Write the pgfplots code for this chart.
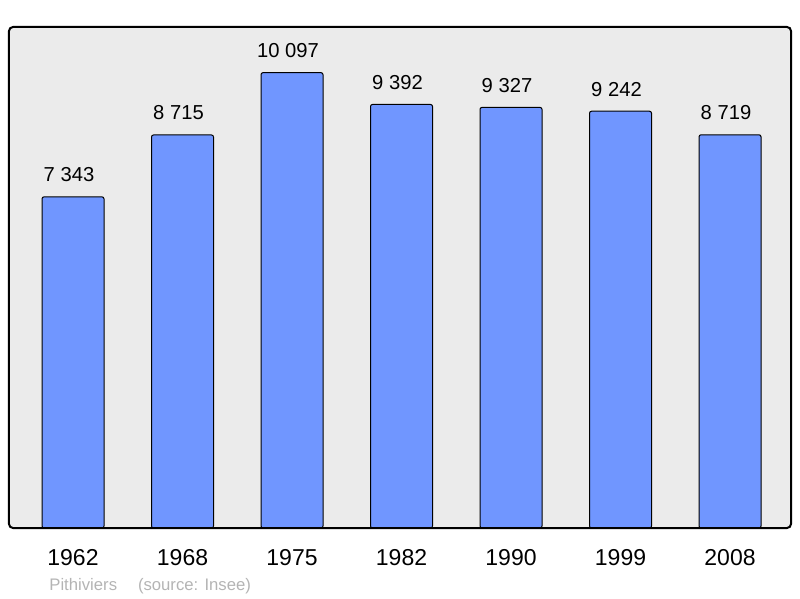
\documentclass[border=0pt]{standalone}
\usepackage{fontspec}
\setmainfont{Liberation Sans}
\usepackage{pgfplots}
\pgfplotsset{compat=1.18}
\definecolor{barblue}{HTML}{7096FF}
\definecolor{bggray}{HTML}{EBEBEB}
\definecolor{srcgray}{HTML}{B4B4B4}

\begin{document}
\begin{tikzpicture}
\begin{axis}[
  scale only axis,
  width=391pt, height=250.5pt,
  ybar, bar width=31pt,
  xmin=-0.5845, xmax=6.557,
  ymin=0, ymax=11110,
  clip=false,
  axis line style={draw=none},
  axis background/.style={fill=bggray},
  ytick=\empty,
  xtick=data,
  xticklabels={1962,1968,1975,1982,1990,1999,2008},
  major tick length=0pt,
  xticklabel style={font=\fontsize{11.5}{13}\selectfont, anchor=base, yshift=-18.5pt},
  point meta=explicit symbolic,
  nodes near coords,
  every node near coord/.append style={font=\fontsize{10.1}{12}\selectfont, anchor=base, xshift=-2pt, yshift=7.5pt},
]
  \addplot[fill=barblue, draw=black, line width=0.5pt, rounded corners=1pt]
    coordinates {
      (0,7343) [7~343]
      (1,8715) [8~715]
      (2,10097) [10~097]
      (3,9392) [9~392]
      (4,9327) [9~327]
      (5,9242) [9~242]
      (6,8719) [8~719]
    };
  \draw[black, line width=1pt, rounded corners=2pt] (rel axis cs:0,0) rectangle (rel axis cs:1,1);
  \node[anchor=base west, inner sep=0pt, text=srcgray, font=\fontsize{8.35}{10}\selectfont]
    at ([shift={(20pt,-31pt)}]rel axis cs:0,0) {Pithiviers\hspace{1.25em}(source: Insee)};
  \path ([shift={(-4.5pt,-35pt)}]rel axis cs:0,0) rectangle ([shift={(4.5pt,13.5pt)}]rel axis cs:1,1);
\end{axis}
\end{tikzpicture}
\end{document}
